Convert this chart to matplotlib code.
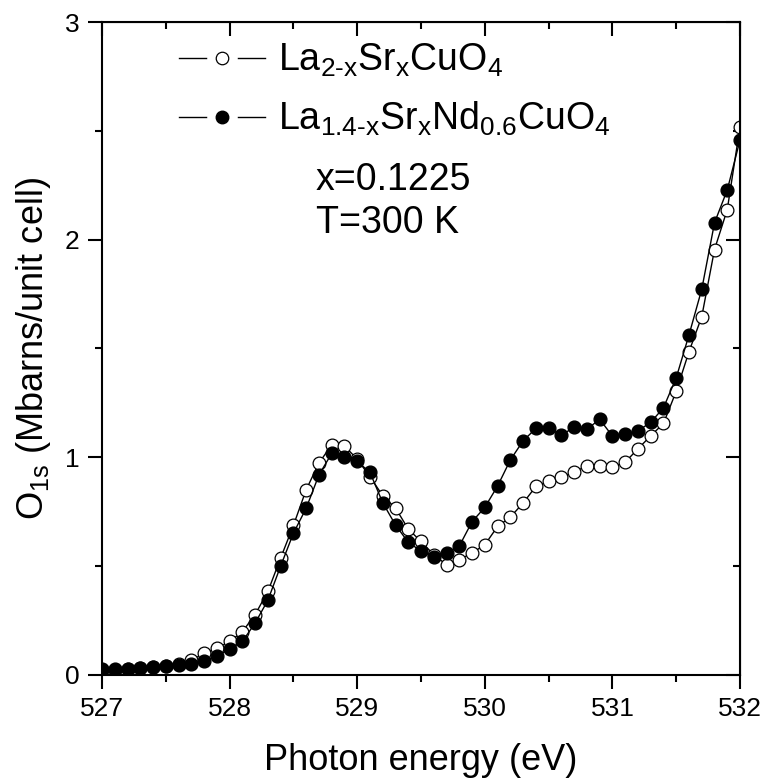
import numpy as np
import matplotlib
matplotlib.use("Agg")
import matplotlib.pyplot as plt
from matplotlib.ticker import MultipleLocator
from matplotlib.lines import Line2D
from matplotlib.legend_handler import HandlerTuple

plt.rcParams['font.family'] = ['Liberation Sans', 'DejaVu Sans']
plt.rcParams['mathtext.fontset'] = 'custom'
plt.rcParams['mathtext.rm'] = 'Liberation Sans'
plt.rcParams['mathtext.it'] = 'Liberation Sans'
plt.rcParams['mathtext.default'] = 'regular'

# photon energy (eV)
energy = [527.0, 527.1, 527.2, 527.3, 527.4, 527.5, 527.6, 527.7, 527.8, 527.9,
          528.0, 528.1, 528.2, 528.3, 528.4, 528.5, 528.6, 528.7, 528.8, 528.9,
          529.0, 529.1, 529.2, 529.3, 529.4, 529.5, 529.6, 529.7, 529.8, 529.9,
          530.0, 530.1, 530.2, 530.3, 530.4, 530.5, 530.6, 530.7, 530.8, 530.9,
          531.0, 531.1, 531.2, 531.3, 531.4, 531.5, 531.6, 531.7, 531.8, 531.9,
          532.0]

# La2-xSrxCuO4 (open circles)
lsco = [0.020, 0.020, 0.025, 0.030, 0.035, 0.040, 0.050, 0.065, 0.098, 0.120,
        0.152, 0.197, 0.276, 0.382, 0.536, 0.686, 0.850, 0.973, 1.056, 1.052,
        0.990, 0.910, 0.822, 0.766, 0.669, 0.612, 0.551, 0.505, 0.528, 0.559,
        0.597, 0.681, 0.724, 0.789, 0.865, 0.888, 0.908, 0.931, 0.960, 0.957,
        0.954, 0.977, 1.038, 1.098, 1.155, 1.303, 1.485, 1.646, 1.955, 2.139,
        2.520]

# La1.4-xSrxNd0.6CuO4 (filled circles)
lnsco = [0.025, 0.025, 0.027, 0.030, 0.033, 0.039, 0.046, 0.048, 0.062, 0.085,
         0.117, 0.152, 0.237, 0.342, 0.499, 0.650, 0.765, 0.918, 1.017, 1.002,
         0.980, 0.930, 0.790, 0.688, 0.608, 0.568, 0.542, 0.560, 0.591, 0.703,
         0.769, 0.867, 0.987, 1.075, 1.132, 1.132, 1.102, 1.137, 1.128, 1.174,
         1.097, 1.106, 1.121, 1.160, 1.227, 1.365, 1.562, 1.772, 2.078, 2.229,
         2.459]

labels = [r'La$_{2\text{-}x}$Sr$_x$CuO$_4$',
          r'La$_{1.4\text{-}x}$Sr$_x$Nd$_{0.6}$CuO$_4$']

fig = plt.figure(figsize=(7.63, 7.78), dpi=100)
ax = fig.add_axes([0.1337, 0.133, 0.8362, 0.8383])

ax.plot(energy, lsco, '-o', color='black', lw=1, ms=9.2, mfc='white',
        mec='black', mew=0.9)
ax.plot(energy, lnsco, '-o', color='black', lw=1, ms=9.2, mfc='black',
        mec='black')

ax.set_xlim(527, 532)
ax.set_ylim(0, 3)
ax.xaxis.set_major_locator(MultipleLocator(1))
ax.xaxis.set_minor_locator(MultipleLocator(0.5))
ax.yaxis.set_major_locator(MultipleLocator(1))
ax.yaxis.set_minor_locator(MultipleLocator(0.5))
ax.tick_params(which='major', direction='out', length=10, width=1.5,
               labelsize=19, pad=6)
ax.tick_params(which='minor', direction='out', length=5, width=1.5)
for s in ax.spines.values():
    s.set_linewidth(1.5)

# inward ticks on top and right
top = ax.secondary_xaxis('top')
top.xaxis.set_major_locator(MultipleLocator(1))
top.xaxis.set_minor_locator(MultipleLocator(0.5))
top.tick_params(which='major', direction='in', length=10, width=1.5, labeltop=False)
top.tick_params(which='minor', direction='in', length=5, width=1.5)
right = ax.secondary_yaxis('right')
right.yaxis.set_major_locator(MultipleLocator(1))
right.yaxis.set_minor_locator(MultipleLocator(0.5))
right.tick_params(which='major', direction='in', length=10, width=1.5, labelright=False)
right.tick_params(which='minor', direction='in', length=5, width=1.5)

ax.set_xlabel('Photon energy (eV)', fontsize=26, labelpad=16)
ax.set_ylabel(r'O$_{1s}$ (Mbarns/unit cell)', fontsize=26, labelpad=9)

# legend handles: line, white gap around marker, marker
line_h = Line2D([], [], color='black', lw=1)
gap_h = Line2D([], [], ls='none', marker='o', ms=22, mfc='white', mec='none')
open_h = Line2D([], [], ls='none', marker='o', ms=9, mfc='white', mec='black', mew=0.9)
fill_h = Line2D([], [], ls='none', marker='o', ms=9, mfc='black', mec='black')
leg = ax.legend([(line_h, gap_h, open_h), (line_h, gap_h, fill_h)], labels,
                handler_map={tuple: HandlerTuple(ndivide=1, pad=0)},
                loc='upper left', bbox_to_anchor=(0.12, 0.97), frameon=False,
                fontsize=27, handlelength=2.3, handletextpad=0.35,
                labelspacing=0.55, borderpad=0, borderaxespad=0)

ax.text(0.335, 0.758, 'x=0.1225', transform=ax.transAxes, fontsize=27,
        va='center', ha='left')
ax.text(0.335, 0.692, 'T=300 K', transform=ax.transAxes, fontsize=27,
        va='center', ha='left')

fig.savefig('out.png', dpi=100)
